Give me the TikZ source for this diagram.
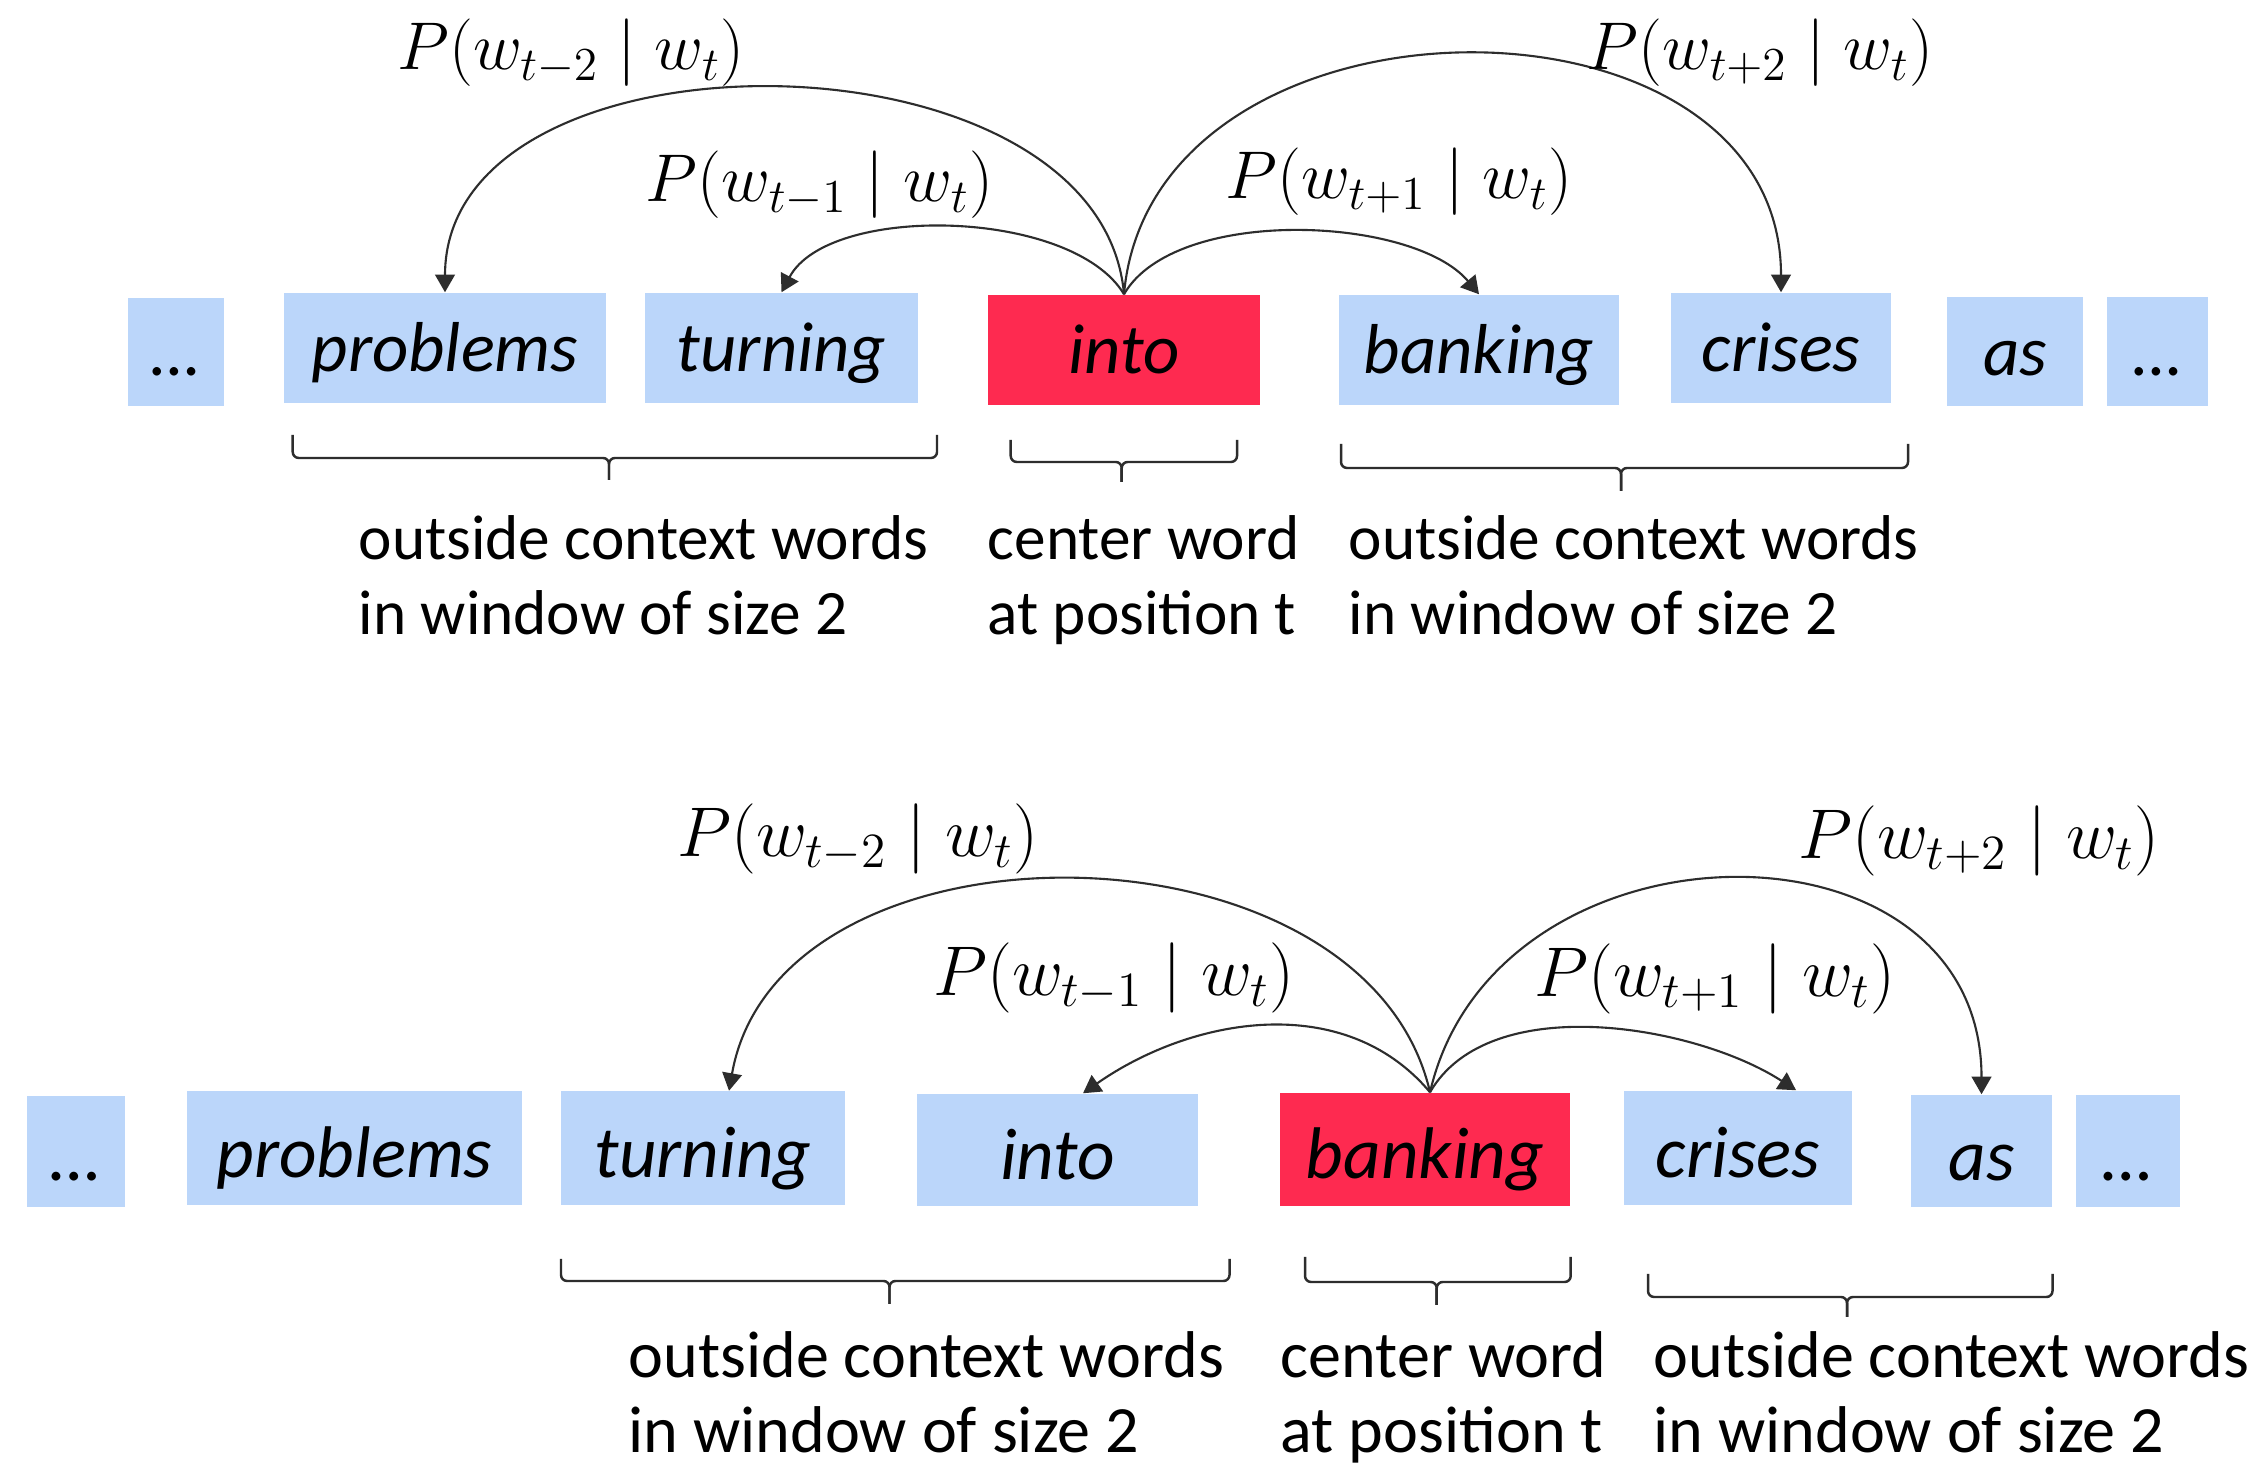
\RequirePackage{fix-cm}
\documentclass[tikz,border=0pt]{standalone}
\usepackage[no-math]{fontspec}
\setmainfont{Carlito}
\usetikzlibrary{arrows.meta}

\definecolor{wordblue}{RGB}{187,214,250}
\definecolor{centerred}{RGB}{254,42,80}
\definecolor{linegray}{RGB}{45,45,45}

\begin{document}
\begin{tikzpicture}[x=0.01cm, y=0.01cm,
  word/.style={fill=wordblue, inner sep=0pt, text height=0.55cm, text depth=0.07cm,
               font=\fontsize{20.1pt}{22pt}\selectfont\itshape},
  wordlow/.style={word, text height=0.62cm, text depth=0.04cm,
               font=\fontsize{20.8pt}{23pt}\selectfont\itshape},
  centerword/.style={word, fill=centerred},
  centerwordlow/.style={wordlow, fill=centerred},
  prob/.style={inner sep=0pt, anchor=base, font=\fontsize{19.2pt}{23pt}\selectfont},
  problow/.style={prob, font=\fontsize{20pt}{24pt}\selectfont},
  note/.style={inner sep=0pt, align=left, anchor=base west,
               font=\fontsize{18pt}{21.6pt}\selectfont},
  notelow/.style={note, font=\fontsize{18.8pt}{21.6pt}\selectfont},
  link/.style={draw=linegray, line width=0.6pt, -{Triangle[width=5.6pt,length=5pt]}},
  bracket/.style={draw=linegray, line width=0.7pt, rounded corners=0.06cm},
]
\useasboundingbox (0,0) rectangle (2264,1470);
\fill[white] (0,0) rectangle (2264,1470);

% ---------- first sentence: center word "into" ----------
\node[word, minimum width=0.96cm, minimum height=1.08cm] (a0) at (176,1118) {\ldots};
\node[word, minimum width=3.22cm, minimum height=1.10cm] (a1) at (445,1122) {problems};
\node[word, minimum width=2.73cm, minimum height=1.10cm] (a2) at (781.5,1122) {turning};
\node[centerword, minimum width=2.72cm, minimum height=1.10cm] (a3) at (1124,1120) {into};
\node[word, minimum width=2.80cm, minimum height=1.10cm] (a4) at (1479,1120) {banking};
\node[word, minimum width=2.20cm, minimum height=1.10cm] (a5) at (1781,1122) {crises};
\node[word, minimum width=1.36cm, minimum height=1.09cm] (a6) at (2015,1118.5) {as};
\node[word, minimum width=1.01cm, minimum height=1.09cm] (a7) at (2157.5,1118.5) {\ldots};

\draw[link] (a3.north) to[out=95,in=90,looseness=1.03] (a1.north);
\draw[link] (a3.north) to[out=121,in=62,looseness=0.75] (a2.north);
\draw[link] (a3.north) to[out=60,in=130,looseness=0.74] (a4.north);
\draw[link] (a3.north) to[out=85,in=90,looseness=1.24] (a5.north);

\node[prob] (pa1) at (571,1400) {$P(w_{t-2}\mid w_t)$};
\node[prob] (pa2) at (819.5,1268) {$P(w_{t-1}\mid w_t)$};
\node[prob] (pa3) at (1399,1271) {$P(w_{t+1}\mid w_t)$};
\node[prob] (pa4) at (1760,1400) {$P(w_{t+2}\mid w_t)$};

\draw[bracket] (292.7,1035) |- (609,1012) -- (609,990);
\draw[bracket] (937,1035) |- (609,1012) -- (609,990);
\draw[bracket] (1010.7,1030) |- (1121.7,1008) -- (1121.7,988);
\draw[bracket] (1237,1030) |- (1121.7,1008) -- (1121.7,988);
\draw[bracket] (1341,1026) |- (1621,1002) -- (1621,979);
\draw[bracket] (1908,1026) |- (1621,1002) -- (1621,979);

% the base anchor of these two-line notes sits on the second line
\node[note] (na1) at (358,835) {outside context words\\in window of size 2};
\node[note] (na2) at (987,835) {center word\\at position t};
\node[note] (na3) at (1348,835) {outside context words\\in window of size 2};

% ---------- second sentence: center word "banking" ----------
\node[wordlow, minimum width=0.98cm, minimum height=1.11cm] (b0) at (76,318.5) {\ldots};
\node[wordlow, minimum width=3.35cm, minimum height=1.13cm] (b1) at (354.5,322) {problems};
\node[wordlow, minimum width=2.84cm, minimum height=1.13cm] (b2) at (703,322) {turning};
\node[wordlow, minimum width=2.81cm, minimum height=1.12cm] (b3) at (1057.5,320) {into};
\node[centerwordlow, minimum width=2.90cm, minimum height=1.13cm] (b4) at (1425,320.5) {banking};
\node[wordlow, minimum width=2.28cm, minimum height=1.14cm] (b5) at (1738,322) {crises};
\node[wordlow, minimum width=1.41cm, minimum height=1.12cm] (b6) at (1981.5,319) {as};
\node[wordlow, minimum width=1.04cm, minimum height=1.12cm] (b7) at (2128,319) {\ldots};

\draw[link] ([xshift=0.05cm]b4.north) to[out=103,in=80,looseness=1.05] ([xshift=0.26cm]b2.north);
\draw[link] ([xshift=0.05cm]b4.north) to[out=130,in=35,looseness=0.98] ([xshift=0.255cm]b3.north);
\draw[link] ([xshift=0.05cm]b4.north) to[out=60,in=147,looseness=0.83] ([xshift=0.58cm]b5.north);
\draw[link] ([xshift=0.05cm]b4.north) to[out=77,in=90,looseness=1.34] (b6.north);

\node[problow] (pb1) at (858,613) {$P(w_{t-2}\mid w_t)$};
\node[problow] (pb2) at (1114,474) {$P(w_{t-1}\mid w_t)$};
\node[problow] (pb3) at (1715,473) {$P(w_{t+1}\mid w_t)$};
\node[problow] (pb4) at (1979,611) {$P(w_{t+2}\mid w_t)$};

\draw[bracket] (561,211) |- (889.5,189) -- (889.5,166);
\draw[bracket] (1229.5,211) |- (889.5,189) -- (889.5,166);
\draw[bracket] (1305,213) |- (1436.7,188) -- (1436.7,165);
\draw[bracket] (1570.7,213) |- (1436.7,188) -- (1436.7,165);
\draw[bracket] (1648,196) |- (1847,173) -- (1847,153);
\draw[bracket] (2052.5,196) |- (1847,173) -- (1847,153);

\node[notelow] (nb1) at (628,17) {outside context words\\in window of size 2};
\node[notelow] (nb2) at (1280,17) {center word\\at position t};
\node[notelow] (nb3) at (1653,17) {outside context words\\in window of size 2};
\end{tikzpicture}
\end{document}
